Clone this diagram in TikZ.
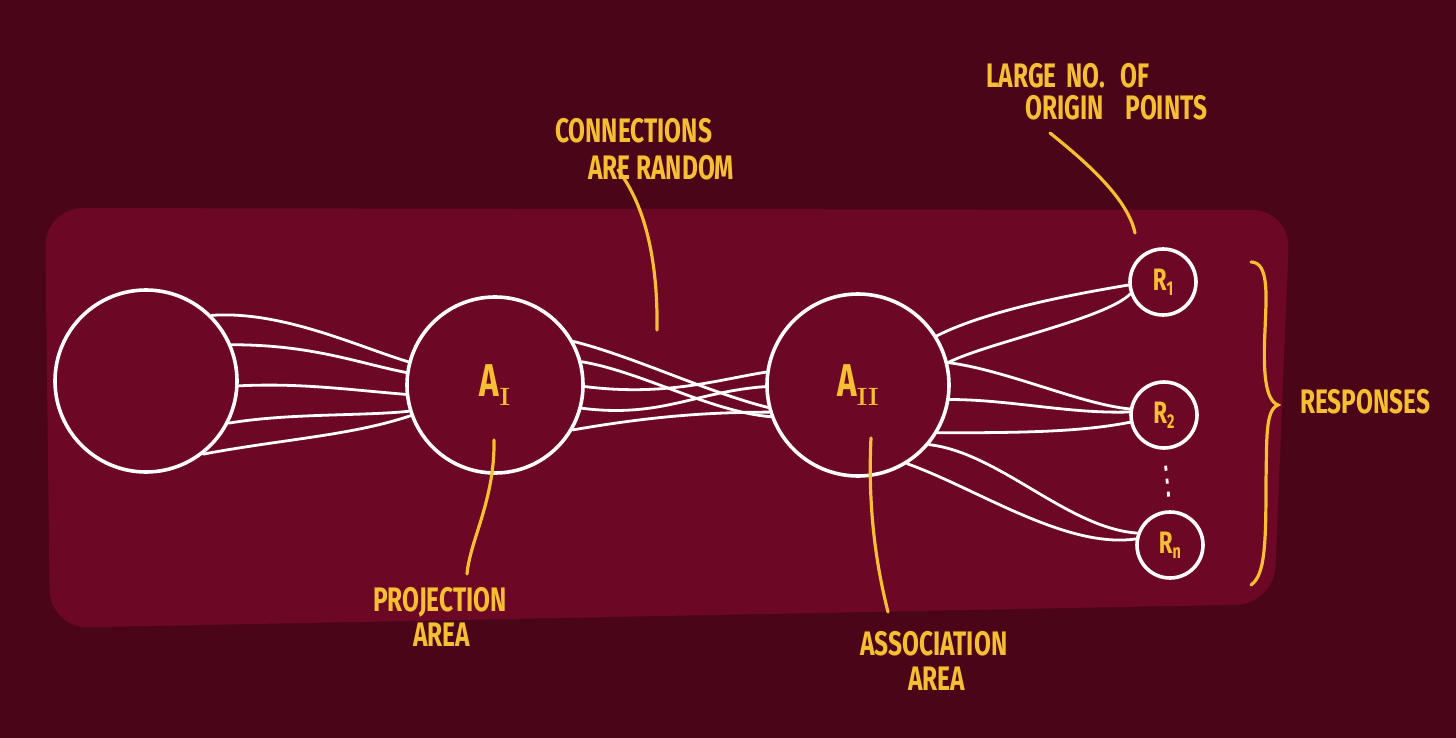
\documentclass[tikz,border=0pt]{standalone}
\usepackage{fontspec}
\newfontfamily\hand[FakeStretch=0.72]{Fira Sans}
\definecolor{bgout}{HTML}{4A0519}
\definecolor{bgin}{HTML}{6C0725}
\definecolor{ylw}{HTML}{F6BF33}
\begin{document}
\begin{tikzpicture}[x=1pt,y=-1pt,
  circ/.style={circle,draw=white,line width=3.6pt,inner sep=0pt,text=ylw},
  wire/.style={draw=white,line width=2.8pt,line cap=round},
  ptr/.style={draw=ylw,line width=3.2pt,line cap=round},
  lab/.style={text=ylw,inner sep=0pt,anchor=base west,font=\hand\bfseries\fontsize{34}{34}\selectfont},
  big/.style={font=\hand\bfseries\fontsize{46}{46}\selectfont},
  rl/.style={font=\hand\bfseries\fontsize{31}{31}\selectfont}]
\useasboundingbox (0,0) rectangle (1456,738);
\fill[bgout] (0,0) rectangle (1456,738);
\fill[bgin,rounded corners=38] (45,208) -- (1290,210) -- (1274,604) -- (50,628) -- cycle;

% circles
\node[circ,minimum size=182] (c0) at (146,381) {};
\node[circ,minimum size=176,big] (a1) at (495,385) {A\raisebox{-9pt}{\rmfamily\bfseries\fontsize{25}{25}\selectfont I}};
\node[circ,minimum size=182,big] (a2) at (858,385) {A\raisebox{-9pt}{\rmfamily\bfseries\fontsize{25}{25}\selectfont II}};
\node[circ,minimum size=66,rl] (r1) at (1163,282) {R\raisebox{-5pt}{\fontsize{20}{20}\selectfont 1}};
\node[circ,minimum size=66,rl] (r2) at (1164,415) {R\raisebox{-5pt}{\fontsize{20}{20}\selectfont 2}};
\node[circ,minimum size=66,rl] (rn) at (1170,545) {R\raisebox{-5pt}{\fontsize{20}{20}\selectfont n}};

% C0 -> A1
\draw[wire] (c0.45) .. controls +(70,-5) and +(-50,-15) .. (a1.165);
\draw[wire] (c0.23) .. controls +(80,0) and +(-50,-10) .. (a1.172);
\draw[wire] (c0.-3) .. controls +(60,-3) and +(-60,-5) .. (a1.186);
\draw[wire] (c0.-27) .. controls +(60,-10) and +(-50,5) .. (a1.197);
\draw[wire] (c0.-52) .. controls +(80,-15) and +(-60,20) .. (a1.200);

% A1 -> A2
\draw[wire] (a1.29) .. controls +(60,15) and +(-60,-15) .. (a2.194);
\draw[wire] (a1.15) .. controls +(60,10) and +(-60,-5) .. (a2.200);
\draw[wire] (a1.-1) .. controls +(80,10) and +(-50,8) .. (a2.172);
\draw[wire] (a1.-15) .. controls +(80,10) and +(-70,5) .. (a2.181);
\draw[wire] (a1.-30) .. controls +(70,-12) and +(-70,0) .. (a2.197);

% A2 -> R
\draw[wire] (a2.32) .. controls +(50,-25) and +(-60,10) .. (r1.185);
\draw[wire] (a2.14) .. controls +(40,-20) and +(-25,25) .. (r1.200);
\draw[wire] (a2.14) .. controls +(60,8) and +(-50,-5) .. (r2.170);
\draw[wire] (a2.-9) .. controls +(60,0) and +(-60,2) .. (r2.175);
\draw[wire] (a2.-31) .. controls +(80,0) and +(-50,10) .. (r2.192);
\draw[wire] (a2.-40) .. controls +(70,8) and +(-70,-5) .. (rn.160);
\draw[wire] (a2.-58) .. controls +(70,25) and +(-70,10) .. (rn.170);

% dots between R2 and Rn
\draw[draw=white,line width=2.8pt,dash pattern=on 5pt off 8pt,shorten <=16pt,shorten >=6pt] (r2.south) -- (rn.north);

% labels
\node[lab] (t1) at (555,143) {CONNECTIONS};
\node[lab] (t2) at (588,180) {ARE RANDOM};
\node[lab] (t3) at (986,88) {LARGE\hspace{4pt} NO.\hspace{10pt} OF};
\node[lab] (t4) at (1025,120) {ORIGIN\hspace{16pt} POINTS};
\node[lab] (t5) at (373,611) {PROJECTION};
\node[lab] (t6) at (413,646) {AREA};
\node[lab] (t7) at (860,655) {ASSOCIATION};
\node[lab] (t8) at (908,690) {AREA};
\node[lab] (t9) at (1300,413) {RESPONSES};

% pointers
\coordinate (p1a) at (618,170); \coordinate (p1b) at (657,330);
\draw[ptr] (p1a) .. controls (645,205) and (658,260) .. (p1b);
\coordinate (p2a) at (1050,133); \coordinate (p2b) at (1135,233);
\draw[ptr] (p2a) .. controls (1090,165) and (1128,200) .. (p2b);
\coordinate (p3a) at (494,440); \coordinate (p3b) at (467,574);
\draw[ptr] (p3a) .. controls (495,500) and (470,540) .. (p3b);
\coordinate (p4a) at (871,438); \coordinate (p4b) at (888,612);
\draw[ptr] (p4a) .. controls (867,520) and (880,580) .. (p4b);

% brace
\draw[ptr] (1251,262) .. controls (1270,262) and (1266,300) .. (1265,330)
  .. controls (1263,372) and (1265,400) .. (1278,405)
  .. controls (1265,410) and (1267,440) .. (1266,480)
  .. controls (1266,545) and (1265,575) .. (1251,585);
\end{tikzpicture}
\end{document}
